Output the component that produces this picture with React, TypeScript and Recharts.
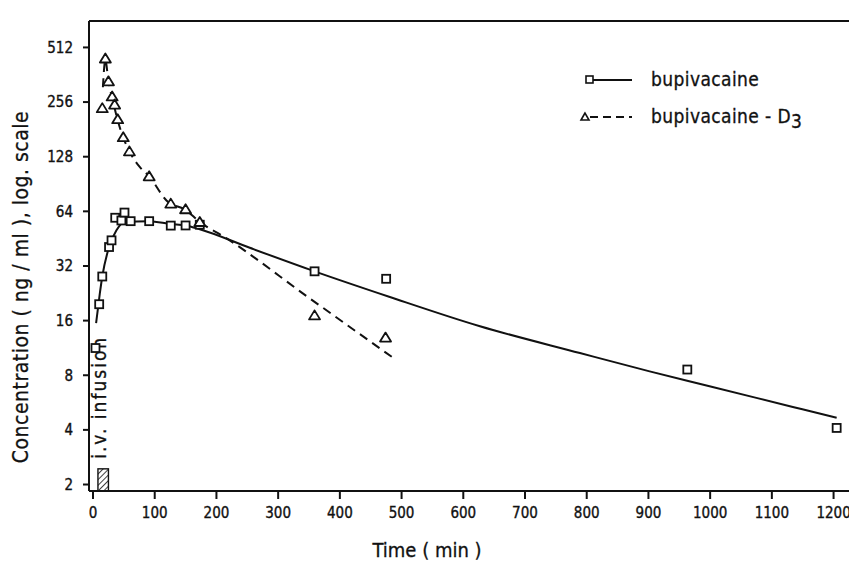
import React from "react";
import {
  ComposedChart,
  Line,
  Scatter,
  XAxis,
  YAxis,
  ReferenceArea,
  ReferenceLine,
  Label,
} from "recharts";

const FONT = "'DejaVu Sans Condensed', 'DejaVu Sans', sans-serif";
const INK = "#111";

// measured samples (min, ng/ml)
const bupiTime = [4, 10, 15, 26, 30, 36, 46, 51, 61, 91, 126, 150, 173, 359, 475, 963, 1205];
const bupiConc = [11.3, 19.7, 28, 40.7, 44.3, 59, 57, 63, 56.5, 56.5, 53.4, 53.5, 54, 29.9, 27.2, 8.6, 4.1];

const d3Time = [15, 20, 25, 31, 35, 40, 49, 59, 91, 126, 150, 173, 359, 474];
const d3Conc = [237, 445, 333, 275, 248, 206, 164, 137, 99.8, 70.6, 65.7, 55.9, 17.1, 12.9];

// fitted curves
const bupiFitTime = [5, 11, 15, 26, 38, 51, 91, 126, 150, 173, 254, 359, 481, 627, 789, 902, 999, 1134, 1205];
const bupiFitConc = [15.5, 22.5, 28, 40.7, 50.3, 55.9, 56.5, 54.5, 53.5, 51, 40.3, 29.9, 21.6, 14.9, 10.6, 8.4, 6.96, 5.35, 4.66];

const d3FitTime = [16, 20, 25, 32, 40, 50, 60, 76, 91, 119, 151, 173, 213, 348, 486];
const d3FitConc = [309, 437, 333, 262, 203, 160, 135, 112, 99.8, 73.5, 64.8, 55.9, 46.2, 21.6, 10.0];

const timeTicks = [0, 100, 200, 300, 400, 500, 600, 700, 800, 900, 1000, 1100, 1200];
const concTicks = [2, 4, 8, 16, 32, 64, 128, 256, 512];

const infusionStart = 8;
const infusionEnd = 25;
const infusionTop = 2.44;

const X_DOMAIN = [-6.5, 1225];
const Y_MIN = 1.842;
const Y_MAX = 716;

const zip = (xs: number[], ys: number[]) => xs.map((t, i) => ({ t, c: ys[i] }));

const bupiPts = zip(bupiTime, bupiConc);
const d3Pts = zip(d3Time, d3Conc);
const bupiFit = zip(bupiFitTime, bupiFitConc);
const d3Fit = zip(d3FitTime, d3FitConc);

const tickStyle = { fill: INK, fontFamily: FONT, fontSize: 15, stroke: INK, strokeWidth: 0.35 };

const Square = (p: any) => (
  <rect x={p.cx - 4} y={p.cy - 4} width={8} height={8} fill="#fff" stroke={INK} strokeWidth={1.8} />
);

const Triangle = (p: any) => (
  <polygon
    points={`${p.cx},${p.cy - 5} ${p.cx - 5.5},${p.cy + 4} ${p.cx + 5.5},${p.cy + 4}`}
    fill="#fff"
    stroke={INK}
    strokeWidth={1.8}
    strokeLinejoin="round"
  />
);

// hatched infusion bar plus its vertical caption
const InfusionBar = (p: any) => {
  const { x, y, width, height } = p;
  return (
    <g>
      <defs>
        <pattern id="hatch" patternUnits="userSpaceOnUse" width={4} height={4} patternTransform="rotate(45)">
          <line x1={0} y1={0} x2={0} y2={4} stroke={INK} strokeWidth={1.6} />
        </pattern>
      </defs>
      <rect x={x} y={y} width={width} height={height} fill="url(#hatch)" stroke={INK} strokeWidth={1.4} />
      <text
        transform={`translate(${x + width / 2 + 2.5},${y - 10}) rotate(-90)`}
        fontFamily={FONT}
        fontSize={19}
        letterSpacing={2}
        fill={INK}
        stroke={INK}
        strokeWidth={0.3}
      >
        i.v. infusion
      </text>
    </g>
  );
};

const LegendBox = () => (
  <svg width={260} height={70} style={{ position: "absolute", left: 575, top: 66 }}>
    <rect x={11} y={10} width={7} height={7} fill="#fff" stroke={INK} strokeWidth={1.6} />
    <line x1={18} y1={14} x2={57} y2={14} stroke={INK} strokeWidth={2} />
    <text x={76} y={20} fontFamily={FONT} fontSize={19} letterSpacing={0.4} fill={INK} stroke={INK} strokeWidth={0.3}>
      bupivacaine
    </text>
    <polygon points="10,47 6,54 14,54" fill="#fff" stroke={INK} strokeWidth={1.6} />
    <line x1={15} y1={51} x2={57} y2={51} stroke={INK} strokeWidth={2} strokeDasharray="8 5" />
    <text x={76} y={57} fontFamily={FONT} fontSize={19} letterSpacing={0.4} fill={INK} stroke={INK} strokeWidth={0.3}>
      bupivacaine - D
      <tspan dy={5}>3</tspan>
    </text>
  </svg>
);

export default function App() {
  return (
    <div
      style={{
        position: "absolute",
        left: 0,
        top: 0,
        width: 849,
        height: 562,
        overflow: "hidden",
        background: "#fff",
      }}
    >
      <ComposedChart width={849} height={562} margin={{ top: 21, right: 0, bottom: 0, left: 0 }}>
        <XAxis
          dataKey="t"
          type="number"
          domain={X_DOMAIN}
          allowDataOverflow
          ticks={timeTicks}
          interval={0}
          height={71}
          tickSize={8}
          tickMargin={8}
          stroke={INK}
          strokeWidth={2}
          tick={tickStyle}
        >
          <Label
            value="Time ( min )"
            content={(props: any) => {
              const vb = props.viewBox;
              return (
                <text
                  x={vb.x + 338}
                  y={vb.y + 66}
                  textAnchor="middle"
                  fontFamily={FONT}
                  fontSize={20}
                  fill={INK}
                  stroke={INK}
                  strokeWidth={0.3}
                >
                  Time ( min )
                </text>
              );
            }}
          />
        </XAxis>
        <YAxis
          dataKey="c"
          type="number"
          scale="log"
          domain={[Y_MIN, Y_MAX]}
          allowDataOverflow
          ticks={concTicks}
          interval={0}
          width={89}
          tickSize={6}
          tickMargin={10}
          stroke={INK}
          strokeWidth={2}
          tick={tickStyle}
        >
          <Label
            value="Concentration ( ng / ml ), log. scale"
            content={(props: any) => {
              const vb = props.viewBox;
              const cx = 28;
              const cy = vb.y + vb.height / 2 + 31;
              return (
                <text
                  transform={`translate(${cx},${cy}) rotate(-90)`}
                  textAnchor="middle"
                  fontFamily={FONT}
                  fontSize={21}
                  letterSpacing={0.5}
                  fill={INK}
                  stroke={INK}
                  strokeWidth={0.3}
                >
                  Concentration ( ng / ml ), log. scale
                </text>
              );
            }}
          />
        </YAxis>
        <ReferenceLine y={Y_MAX} stroke={INK} strokeWidth={2} ifOverflow="visible" />
        <ReferenceArea
          x1={infusionStart}
          x2={infusionEnd}
          y1={Y_MIN}
          y2={infusionTop}
          ifOverflow="visible"
          shape={InfusionBar}
        />
        <Line
          data={bupiFit}
          dataKey="c"
          type="monotone"
          stroke={INK}
          strokeWidth={2}
          dot={false}
          activeDot={false}
          isAnimationActive={false}
          legendType="none"
        />
        <Line
          data={d3Fit}
          dataKey="c"
          type="monotone"
          stroke={INK}
          strokeWidth={2}
          strokeDasharray="9 6"
          dot={false}
          activeDot={false}
          isAnimationActive={false}
          legendType="none"
        />
        <Scatter data={bupiPts} dataKey="c" shape={Square} isAnimationActive={false} legendType="none" />
        <Scatter data={d3Pts} dataKey="c" shape={Triangle} isAnimationActive={false} legendType="none" />
      </ComposedChart>
      <LegendBox />
    </div>
  );
}
